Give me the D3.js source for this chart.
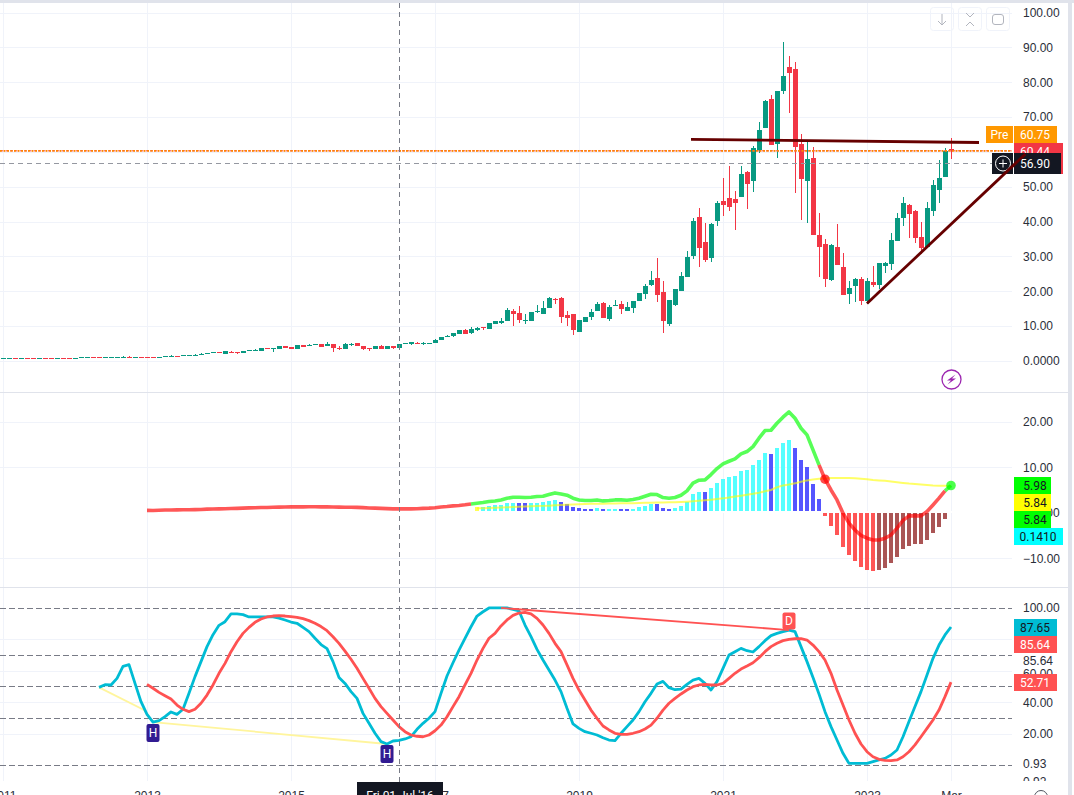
<!DOCTYPE html>
<html>
<head>
<meta charset="utf-8">
<script src="https://cdn.jsdelivr.net/npm/d3@7"></script>
<style>
html, body { margin: 0; padding: 0; background: #fff; overflow: hidden; }
svg { display: block; font-family: Roboto, "Noto Sans", sans-serif; }
.axis text { font-size: 12px; fill: #2a2e39; }
.axis .domain, .axis line { display: none; }
.tag { font-size: 12px; text-anchor: middle; dominant-baseline: central; }
</style>
</head>
<body>
<svg id="area" width="1074" height="795"></svg>
<script>
// monthly candles, index 0 = Jan 2011, index 158 = Mar 2024
var opens = [
  .72,.74,.78,.74,.78,.78,.74,.78,.76,.72,
  .78,.74,.7,1.0,1.0,1.06,1.06,1.02,1.02,1.02,
  1.02,1.07,1.02,1.06,1.06,1.06,1.02,1.2,1.35,1.45,
  1.5,1.55,1.55,1.9,2.1,2.35,2.5,2.05,2.7,2.55,
  2.3,3,3.1,2.87,3.7,3.5,3.45,4.3,4.0,3.45,
  4.6,4.5,4.7,4.88,4.3,4.88,3.6,3.45,4.7,5.17,
  4.3,3.6,3.45,4.3,3.45,4.3,3.73,4.95,4.88,5.17,
  4.97,5.0,5.2,6.0,7.0,7.2,7.7,8.9,8.0,8.9,
  9.8,9.2,10.6,10.9,11.5,14.3,13.8,11.6,11.5,14.1,
  13.5,15.2,17.8,18.1,13.2,13.5,8.3,11.2,12.6,14.3,
  16.6,12,16.1,16.4,14.3,15.2,17.2,19.2,21.8,23.8,
  19.8,10.6,16.1,20.1,24.1,30.1,41.3,34.1,29.6,40.2,
  45.9,46.8,46.5,47,54.2,51.6,60.5,66.9,75.2,62.3,
  77.5,84.4,83.8,62.3,51.6,58.2,36.1,33.5,23.2,32.7,
  27,19.2,21.5,23.6,17.2,22.6,21.8,27.4,27.8,34.5,
  40.9,44.8,43,35.5,32.8,43,49,52.9,60.8
];
var highs = [
  .79,.8,.8,.8,.8,.8,.8,.8,.85,.8,
  .8,.85,.8,1.1,1.08,1.1,1.1,1.08,1.08,1.08,
  1.3,1.3,1.08,1.1,1.1,1.1,1.08,1.45,1.7,1.5,
  1.65,1.65,2,2.3,2.25,2.5,2.55,2.9,3,2.7,
  2.9,3.1,3.3,3.75,3.75,3.7,4.3,4.4,4.05,4.6,
  4.65,5,4.9,4.95,5.4,5,4.3,5.2,5.2,5.2,
  4.35,3.7,4.3,4.6,4.3,4.35,4.88,5.1,5.45,5.45,
  5.45,5.3,6.3,6.9,7.5,8.0,8.9,9.2,9.8,9.8,
  9.85,10.9,11.5,12.3,15.2,14.9,15.8,13.5,14,16,
  17.2,18.4,18.1,18.4,14.3,13.5,11.8,12.6,14.9,16.9,
  16.9,16.1,17.5,17.2,16.9,17.2,19.5,22.1,25.8,29.5,
  22.9,17.5,20.7,25.5,31.6,41,43.9,39.6,39.7,45.9,
  52.5,56,48.8,56,54.5,61.7,68.6,75,76.3,77.5,
  91.5,87.5,85.8,65,63,61.4,42.5,35,33.5,39.3,
  30.9,23,23.8,24,23.7,27.3,28.1,28.4,36.6,42.5,
  47,45,43.3,39.8,45.6,52,57.7,61,64
];
var lows = [
  .72,.72,.72,.72,.72,.72,.72,.72,.6,.7,
  .72,.55,.68,.98,.98,.98,.98,.98,1,1,
  1,1,1,1,1,1,1,1.2,1.3,1.3,
  1.5,1.5,1.5,1.9,2.1,2.35,2.35,2.05,2.5,2.05,
  2.3,2.9,3,2.87,3.5,2.6,3.45,3.7,3.45,3.45,
  4,4.2,4.5,4,4.3,2.6,3.2,3.45,4.3,4.3,
  3.2,2.85,3.45,3.45,3.45,3.4,3.73,4.9,4.6,5,
  4.7,4.9,5.2,6.0,6.9,6.9,7.7,7.7,7.7,8.6,
  8.9,9.2,10.6,10.6,11.5,10,10.9,10.6,11.5,13.8,
  13.5,15.2,16.4,10.9,10,7.5,8.3,11.2,11.8,14.3,
  12.3,11.5,15.8,13.5,14.3,13.8,17.2,17.8,21.5,17,
  8,10,15.8,20.1,24.1,29.3,27,28.4,28.4,38.7,
  41.6,43.1,37.6,47,43.7,48.5,59.7,66.9,62,58.2,
  76.6,71.2,48.3,40.5,39.7,36.1,24,21.2,23,27.5,
  19,16.4,17,16.1,16.3,21.3,20.8,25.3,26.1,34.5,
  38.8,35.4,33.8,30.6,32.8,41.6,45.4,52.9,58
];
var closes = [
  .77,.77,.74,.77,.74,.74,.78,.75,.7,.78,
  .74,.68,.77,1.05,1.05,1.02,1.02,1.06,1.06,1.06,
  1.07,1.02,1.06,1.02,1.02,1.02,1.05,1.35,1.4,1.35,
  1.62,1.62,1.7,2.05,2.2,2.5,2.4,2.87,2.55,2.4,
  2.87,3.07,3.15,3.73,3.55,3.62,4.3,3.73,3.45,4.6,
  4.02,4.6,4.8,4.02,4.88,3.73,3.45,4.88,4.8,4.3,
  3.45,3.45,4.3,3.45,4.3,3.73,4.88,5.07,5.45,4.97,
  5.07,5.2,6.0,6.9,7.2,8.0,8.9,7.7,9.2,9.5,
  9.7,10.9,11.5,11.5,14.6,13.5,11.8,11.8,14,14.3,
  15.2,18.1,17.6,12.6,12.3,8.9,11.8,12.6,14,16.4,
  12.3,15.5,16.2,14.9,15.5,17.2,19.5,21.5,23.2,18.9,
  11.5,17.5,20.7,24.4,29.8,40.2,32.4,29,39.3,45.3,
  44.8,44.3,45.3,53.7,50.8,61.1,66.3,74.6,62,77.5,
  81.8,82.6,61.4,52.2,58,36.1,32.7,23.5,33.3,27.5,
  19,20.9,23.5,17.2,23,21.8,28.1,28,34.7,40.9,
  45.2,42.2,35.4,32.4,43.9,50.5,52.5,60.3,60.44
];

// MACD pane
var macdStart = 24;
var macdValues = [
  .52,.5,.55,.58,.6,.62,.65,.66,.68,.7,
  .78,.8,.85,.88,.92,.95,1.0,1.05,1.08,1.15,
  1.15,1.2,1.22,1.25,1.27,1.28,1.27,1.3,1.3,1.28,
  1.3,1.25,1.22,1.2,1.2,1.18,1.12,1.05,1.0,.95,
  .9,.85,.83,.83,.85,.88,.95,1.0,1.1,1.25,
  1.35,1.5,1.6,1.75,1.93,
  2.08,2.23,2.45,2.59,2.81,3.18,3.4,3.4,3.33,3.4,
  3.55,3.62,4.0,4.35,4.13,3.84,3.18,2.81,2.67,2.67,
  2.81,2.59,2.67,2.81,2.81,2.74,2.89,3.18,3.62,4.06,
  3.99,3.33,3.18,3.33,3.84,4.79,6.48,7.14,7.21,8.38,
  9.7,10.73,11.31,11.82,12.92,13.44,14.53,16.37,18.05,18.12,
  19.66,21,22.15,20.76,18.56,17.1,13.8,10.5,7.36,5,
  2.81,-.1,-2.3,-3.8,-5,-5.6,-6,-6,-5.6,-4.9,
  -3.4,-1.7,-.7,-.65,-.7,.25,1.7,3.2,4.8,5.98
];
var macdColorBreaks = [78, 136, 157];
var macdColors = ["#ff0000", "#00ff00", "#ff0000", "#00ff00"];
var signalStart = 79;
var signalValues = [
  .98,1.0,1.05,1.1,1.15,1.2,1.25,1.3,1.35,1.4,
  1.45,1.5,1.55,1.62,1.7,1.75,1.8,1.85,1.9,1.95,
  1.95,1.97,2.0,2.02,2.05,2.07,2.1,2.12,2.16,2.2,
  2.22,2.25,2.28,2.3,2.35,2.42,2.5,2.6,2.72,2.85,
  3.0,3.15,3.35,3.55,3.75,3.95,4.15,4.4,4.7,5.0,
  5.6,6.0,6.2,6.45,6.8,7.1,7.3,7.45,7.5,7.6,
  7.65,7.65,7.6,7.55,7.45,7.35,7.2,7.1,7.0,6.85,
  6.7,6.55,6.4,6.3,6.2,6.1,6.0,5.95,5.9,5.84
];
var histValues = [
  1.2,1.27,1.49,1.71,1.72,2.15,2.16,2.13,2.12,2.15,
  2.16,2.37,2.59,2.81,2.37,1.93,1.27,.98,.84,.82,
  1.05,.84,.86,.88,.85,.84,.86,1.27,1.49,1.93,
  1.92,1.05,.84,1.05,1.49,2.37,4.13,4.57,4.55,5.45,
  6.55,7.43,7.87,8.09,9.19,9.41,10.5,11.6,13.14,12.92,
  14.24,15.34,16.0,14.24,11.6,10.07,6.33,3.03,-.7,-2.9,
  -4.88,-7.52,-9.27,-10.6,-11.9,-12.57,-12.79,-12.57,-12.13,-11.03,
  -9.71,-7.96,-7.3,-6.86,-6.85,-5.98,-4.44,-3.12,-1.36,.141
];
var crossPoints = [137, 158];

// stochastic pane
var kStart = 16;
var kValues = [
  49.4,51.1,50.9,55.1,62.7,63.8,51.9,40.3,32.3,27.4,
  28.3,30.8,33.8,32.3,35.5,45.6,56.2,65.7,75.2,82.8,
  88.7,91,95.9,95.9,95.5,94,94,94,94,94,
  93.3,92.1,90.8,90,87.4,84.7,80.5,76.5,73.9,65.7,
  55.7,51.9,46.7,42.4,32.9,26.6,20.3,15,13.5,15.4,
  15.8,16.7,18.1,22.8,26.6,29.8,34,45.6,56.6,65,
  73,80.4,87.8,94.6,97.3,99.7,99.7,99.7,99.7,98.8,
  97.8,88.9,81.5,73.5,66.7,60.4,54,46.7,36.1,26.2,
  23.4,21.3,20.3,19.2,17.5,16,15.6,20.3,24.5,28.7,
  34,40.3,45.6,51.5,53.2,49.2,47.9,48.3,51.3,54,
  55.1,51.9,47.7,53,61.4,69.9,72,74.1,72.6,71.8,
  75.2,79,82.2,83.6,84.7,85.7,84.7,75.2,65.7,55.7,
  45.2,34,24.5,16,7.6,1.2,1.2,1.2,1.2,2.3,
  3.4,4.4,6.5,9.7,18.1,27.7,37.2,46.7,57.2,67.8,
  76.2,82.6,87.65
];
var dStart = 24;
var dValues = [
  51.3,48.8,46.2,44.1,42,38.2,35.5,34,35.5,39.3,
  44.5,50.9,58.3,64.6,72,78.3,83.6,87.4,90.6,92.7,
  94,94.6,94.8,94.6,94.2,93.8,92.9,91.7,90,87.9,
  85.3,81.5,77.3,72.4,67.2,61.5,55.1,48.8,42.4,37.2,
  32.9,28.7,24.5,21.3,19.2,18.4,18.1,19.2,21.9,25.5,
  30.8,37.2,43.5,50.9,58.3,66.7,74.1,80.5,83.6,88.3,
  92.1,95,96.5,96.9,95.9,93.1,88.9,83.6,77.3,72,
  63.6,55.1,47.7,41.4,35,29.8,24.9,22.4,20.3,19.6,
  19.6,20.3,21.3,23,25.5,29.8,35,39.3,42.4,45.2,
  47.7,49.8,50.9,51.3,50.9,50.9,51.9,55.1,58.3,61,
  62.9,65,68.2,72,75.2,77.3,79,79.8,80.2,80.2,
  79.4,76.2,72,66.7,58.3,47.7,38.2,28.7,20.3,13.5,
  8.6,5.4,3.8,3.1,2.9,3.4,5.4,8.6,12.9,18.1,
  23.4,28.7,35,43.5,52.71
];

// axis ticks and labels
var priceTicks = [100, 90, 80, 70, 60, 50, 40, 30, 20, 10, 0];
var macdTicks = [20, 10, 0, -10];
var macdGrid = [20, 10, -10];
var stochTicks = [100, 66.1, 57.8, 40, 20, 0.93, -10.2];
var stochTickLabels = ["100.00", "85.64", "60.00", "40.00", "20.00", "0.93", "0.92"];
var stochGrid = [80, 60, 40, 20];
var stochLevels = [100, 70, 50, 30, 0];
var timeTicks = [0, 24, 48, 72, 96, 120, 144, 158];
var timeLabels = ["2011", "2013", "2015", "2017", "2019", "2021", "2023", "Mar"];
var crosshairIndex = 66;
var crosshairPrice = 56.7;
var lastPrice = 60.3;

// drawn tools: [index, value]
var resistanceLine = [[114.67, 63.6], [162.67, 62.7]];
var supportLine = [[144, 16.5], [170.4, 59.4]];
var lowDivergence = [[16, 49.4], [23.5, 35], [25, 27.4], [64, 13.5]];
var highDivergence = [[83, 99.7], [131, 85.7]];

var green = '#089981', red = '#f23645';
var paneRight = 1012;

var svg = d3.select('#area');
var x = d3.scaleLinear().domain([0, 158]).range([3, 951]);
var yPrice = d3.scaleLinear().domain([0, 100]).range([361, 12.5]);
var yMacd = d3.scaleLinear().domain([-10, 20]).range([558.2, 421.7]);
var yStoch = d3.scaleLinear().domain([0, 100]).range([765.3, 607.5]);

// panel background
svg.append('rect').attr('width', 1074).attr('height', 795).attr('fill', '#e0e3eb');
svg.append('rect').attr('x', 0).attr('y', 3).attr('width', 1068).attr('height', 792).attr('fill', '#fff');
svg.append('rect').attr('x', 1072).attr('y', 3).attr('width', 2).attr('height', 792).attr('fill', '#fff');

var defs = svg.append('defs');
defs.append('clipPath').attr('id', 'stochClip').append('rect')
  .attr('x', 1012).attr('y', 590).attr('width', 60).attr('height', 191);

// grid
var grid = svg.append('g').attr('stroke', '#f0f3fa').attr('stroke-width', 1).attr('shape-rendering', 'crispEdges');
grid.selectAll('.vgrid').data(timeTicks).enter().append('line')
  .attr('x1', function(d) { return x(d) + .5; }).attr('x2', function(d) { return x(d) + .5; })
  .attr('y1', 3).attr('y2', 781);
function hGrid(values, scale) {
  grid.selectAll(null).data(values).enter().append('line')
    .attr('x1', 0).attr('x2', paneRight)
    .attr('y1', function(d) { return Math.round(scale(d)) + .5; })
    .attr('y2', function(d) { return Math.round(scale(d)) + .5; });
}
hGrid(priceTicks, yPrice);
hGrid(macdGrid, yMacd);
hGrid(stochGrid, yStoch);

// pane separators
svg.selectAll('.sep').data([392, 587]).enter().append('line')
  .attr('x1', 0).attr('x2', 1068)
  .attr('y1', function(d) { return d + .5; }).attr('y2', function(d) { return d + .5; })
  .attr('stroke', '#e0e3eb').attr('shape-rendering', 'crispEdges');

// candles
var candles = svg.append('g').attr('shape-rendering', 'crispEdges');
closes.forEach(function(c, i) {
  var color = c >= opens[i] ? green : red;
  var top = yPrice(Math.max(opens[i], c));
  var bottom = yPrice(Math.min(opens[i], c));
  candles.append('rect').attr('x', x(i)).attr('width', 1)
    .attr('y', yPrice(highs[i])).attr('height', Math.max(1, yPrice(lows[i]) - yPrice(highs[i])))
    .attr('fill', color);
  candles.append('rect').attr('x', x(i) - 2).attr('width', 5)
    .attr('y', top).attr('height', Math.max(1, bottom - top))
    .attr('fill', color);
});

// last price lines
svg.append('line').attr('x1', 0).attr('x2', paneRight)
  .attr('y1', yPrice(lastPrice)).attr('y2', yPrice(lastPrice))
  .attr('stroke', '#f23645').attr('stroke-width', 1).attr('stroke-dasharray', '1,1');
svg.append('line').attr('x1', 0).attr('x2', paneRight)
  .attr('y1', yPrice(lastPrice)).attr('y2', yPrice(lastPrice))
  .attr('stroke', '#ff8400').attr('stroke-width', 1.6).attr('stroke-dasharray', '2,1.5');

// MACD histogram
var bars = svg.append('g').attr('shape-rendering', 'crispEdges');
histValues.forEach(function(v, n) {
  var i = signalStart + n;
  var prev = histValues[n - 1];
  var color;
  if (n === 0) color = '#ffff55';
  else if (v >= 0) color = v >= prev ? '#55ffff' : '#5555ff';
  else color = v < prev ? '#ff5555' : '#aa5555';
  var y0 = yMacd(0), y1 = yMacd(v);
  bars.append('rect').attr('x', x(i) - 2).attr('width', 4)
    .attr('y', Math.min(y0, y1)).attr('height', Math.abs(y1 - y0))
    .attr('fill', color);
});
svg.append('line').attr('x1', x(signalStart) - 3).attr('x2', 960)
  .attr('y1', yMacd(0) - .8).attr('y2', yMacd(0) - .8)
  .attr('stroke', '#fff').attr('stroke-width', 2);

// MACD lines
var lineMacd = d3.line().x(function(d) { return x(d[0]); }).y(function(d) { return yMacd(d[1]); });
var lineStoch = d3.line().x(function(d) { return x(d[0]); }).y(function(d) { return yStoch(d[1]); });
var linePrice = d3.line().x(function(d) { return x(d[0]); }).y(function(d) { return yPrice(d[1]); });
function points(values, start) {
  return values.map(function(v, n) { return [start + n, v]; });
}

svg.append('path').attr('d', lineMacd(points(signalValues, signalStart)))
  .attr('fill', 'none').attr('stroke', '#ffff00').attr('stroke-opacity', .6).attr('stroke-width', 2);

var macdPoints = points(macdValues, macdStart);
var breaks = [macdStart].concat(macdColorBreaks, [158]);
macdColors.forEach(function(color, k) {
  var seg = macdPoints.filter(function(p) { return p[0] >= breaks[k] && p[0] <= breaks[k + 1]; });
  svg.append('path').attr('d', lineMacd(seg))
    .attr('fill', 'none').attr('stroke', color).attr('stroke-opacity', .66)
    .attr('stroke-width', 3.6).attr('stroke-linejoin', 'round');
});
crossPoints.forEach(function(i) {
  svg.append('circle').attr('cx', x(i)).attr('cy', yMacd(macdValues[i - macdStart]))
    .attr('r', 4.8)
    .attr('fill', i === 158 ? '#00ff00' : '#ff0000').attr('fill-opacity', .7);
});

// stochastic levels and lines
svg.append('g').selectAll('line').data(stochLevels).enter().append('line')
  .attr('x1', 0).attr('x2', paneRight)
  .attr('y1', function(d) { return Math.round(yStoch(d)) + .5; })
  .attr('y2', function(d) { return Math.round(yStoch(d)) + .5; })
  .attr('stroke', '#787b86').attr('stroke-dasharray', '6,3').attr('shape-rendering', 'crispEdges');

svg.append('path').attr('d', lineStoch(lowDivergence))
  .attr('fill', 'none').attr('stroke', '#fff59d').attr('stroke-width', 1.8);
svg.append('path').attr('d', lineStoch(points(kValues, kStart)))
  .attr('fill', 'none').attr('stroke', '#00bcd4').attr('stroke-width', 2.8).attr('stroke-linejoin', 'round');
svg.append('path').attr('d', lineStoch(points(dValues, dStart)))
  .attr('fill', 'none').attr('stroke', '#ff5252').attr('stroke-width', 2.8).attr('stroke-linejoin', 'round');
svg.append('path').attr('d', lineStoch(highDivergence))
  .attr('fill', 'none').attr('stroke', '#ff5252').attr('stroke-width', 1.8);

// divergence markers
function marker(cx, top, h, label, color) {
  svg.append('rect').attr('x', cx - 6.5).attr('y', top).attr('width', 13).attr('height', h)
    .attr('rx', 2).attr('fill', color);
  svg.append('text').attr('class', 'tag').attr('x', cx).attr('y', top + h / 2)
    .attr('fill', '#fff').text(label);
}
marker(x(25), 724, 18, 'H', '#311b92');
marker(x(64), 745, 18, 'H', '#311b92');
marker(x(131), 612.5, 17, 'D', '#ff5252');

// crosshair
svg.append('line').attr('x1', x(crosshairIndex) + .5).attr('x2', x(crosshairIndex) + .5)
  .attr('y1', 3).attr('y2', 782)
  .attr('stroke', '#787b86').attr('stroke-dasharray', '5,4').attr('shape-rendering', 'crispEdges');
svg.append('line').attr('x1', 0).attr('x2', 992)
  .attr('y1', Math.round(yPrice(crosshairPrice)) + .5).attr('y2', Math.round(yPrice(crosshairPrice)) + .5)
  .attr('stroke', '#9598a1').attr('stroke-dasharray', '5,4').attr('shape-rendering', 'crispEdges');

// axes
svg.append('g').attr('class', 'axis').attr('transform', 'translate(' + paneRight + ',0)')
  .call(d3.axisRight(yPrice).tickValues(priceTicks).tickSize(0).tickPadding(11)
    .tickFormat(function(d) { return d === 0 ? '0.0000' : d.toFixed(2); }));
svg.append('g').attr('class', 'axis').attr('transform', 'translate(' + paneRight + ',0)')
  .call(d3.axisRight(yMacd).tickValues(macdTicks).tickSize(0).tickPadding(11)
    .tickFormat(function(d) { return d === 0 ? '0.0000' : d3.format('.2f')(d); }));
svg.append('g').attr('class', 'axis').attr('clip-path', 'url(#stochClip)')
  .append('g').attr('transform', 'translate(' + paneRight + ',0)')
  .call(d3.axisRight(yStoch).tickValues(stochTicks).tickSize(0).tickPadding(11)
    .tickFormat(function(d, i) { return stochTickLabels[i]; }));
svg.append('g').attr('class', 'axis').attr('transform', 'translate(0,785)')
  .call(d3.axisBottom(x).tickValues(timeTicks).tickSize(0).tickPadding(6)
    .tickFormat(function(d, i) { return timeLabels[i]; }));

// axis tags
function tag(x0, y0, w, h, fill, label, textColor) {
  svg.append('rect').attr('x', x0).attr('y', y0).attr('width', w).attr('height', h).attr('fill', fill);
  if (label) {
    svg.append('text').attr('class', 'tag').attr('x', x0 + 21).attr('y', y0 + h / 2)
      .attr('fill', textColor).text(label);
  }
}
tag(986, 126, 27, 17, '#ff9800', null);
svg.append('text').attr('class', 'tag').attr('x', 999.5).attr('y', 134.5).attr('fill', '#fff').text('Pre');
tag(1014, 126, 43, 17, '#ff9800', '60.75', '#fff');
tag(1014, 143, 49, 31, red, null);
svg.append('text').attr('class', 'tag').attr('x', 1035).attr('y', 151.5).attr('fill', '#fff').text('60.44');
tag(992, 153, 21, 21, '#131722', null);
tag(1014, 153, 47, 21, '#131722', '56.90', '#fff');
svg.append('circle').attr('cx', 1003).attr('cy', 163.5).attr('r', 7.5)
  .attr('fill', 'none').attr('stroke', '#fff');
svg.append('path').attr('d', 'M999,163.5H1007M1003,159.5V167.5').attr('stroke', '#fff').attr('fill', 'none');

tag(1014, 477, 37, 17, '#00ff00', '5.98', '#131722');
tag(1014, 494, 37, 17, '#ffff00', '5.84', '#131722');
tag(1014, 511, 37, 17, '#00ff00', '5.84', '#131722');
tag(1014, 528, 49, 17, '#00ffff', '0.1410', '#131722');
svg.selectAll('text.tag').filter(function() { return this.textContent === '0.1410'; }).attr('x', 1038);

tag(1014, 619, 43, 17, '#00bcd4', '87.65', '#131722');
tag(1014, 636, 43, 17, '#ff5252', '85.64', '#fff');
tag(1014, 674, 43, 17, '#ff5252', '52.71', '#fff');

// crosshair time label
svg.append('rect').attr('x', 357).attr('y', 782).attr('width', 86).attr('height', 13).attr('fill', '#131722');
svg.append('text').attr('x', 400).attr('y', 800).attr('text-anchor', 'middle')
  .attr('font-size', 12).attr('fill', '#fff').text("Fri 01 Jul '16");

// trend lines sit above the price axis
svg.append('path').attr('d', linePrice(resistanceLine))
  .attr('fill', 'none').attr('stroke', '#660000').attr('stroke-width', 2.8);
svg.append('path').attr('d', linePrice(supportLine))
  .attr('fill', 'none').attr('stroke', '#660000').attr('stroke-width', 2.8);

// chart buttons
var buttons = svg.append('g').attr('fill', 'none');
[930, 958, 986].forEach(function(bx) {
  buttons.append('rect').attr('x', bx + .5).attr('y', 7.5).attr('width', 23).attr('height', 23)
    .attr('rx', 3).attr('stroke', '#f0f3fa');
});
buttons.append('path').attr('d', 'M942,14V25M938,21L942,25L946,21').attr('stroke', '#b2b5be');
buttons.append('path').attr('d', 'M966,13L970,17L974,13M966,26L970,22L974,26').attr('stroke', '#b2b5be');
buttons.append('rect').attr('x', 992.5).attr('y', 14.5).attr('width', 11).attr('height', 10)
  .attr('rx', 2.5).attr('stroke', '#b2b5be');

// lightning badge
svg.append('circle').attr('cx', 951.5).attr('cy', 379.5).attr('r', 9.5)
  .attr('fill', '#fff').attr('stroke', '#9c27b0').attr('stroke-width', 1.3);
svg.append('path').attr('d', 'M955.5,374.5L947,380.5H951L947.5,384.5L956,378.5H952Z').attr('fill', '#9c27b0');

// time axis settings icon, cut by the window edge
svg.append('circle').attr('cx', 1041).attr('cy', 797).attr('r', 6.5)
  .attr('fill', 'none').attr('stroke', '#50535e');
</script>
</body>
</html>
